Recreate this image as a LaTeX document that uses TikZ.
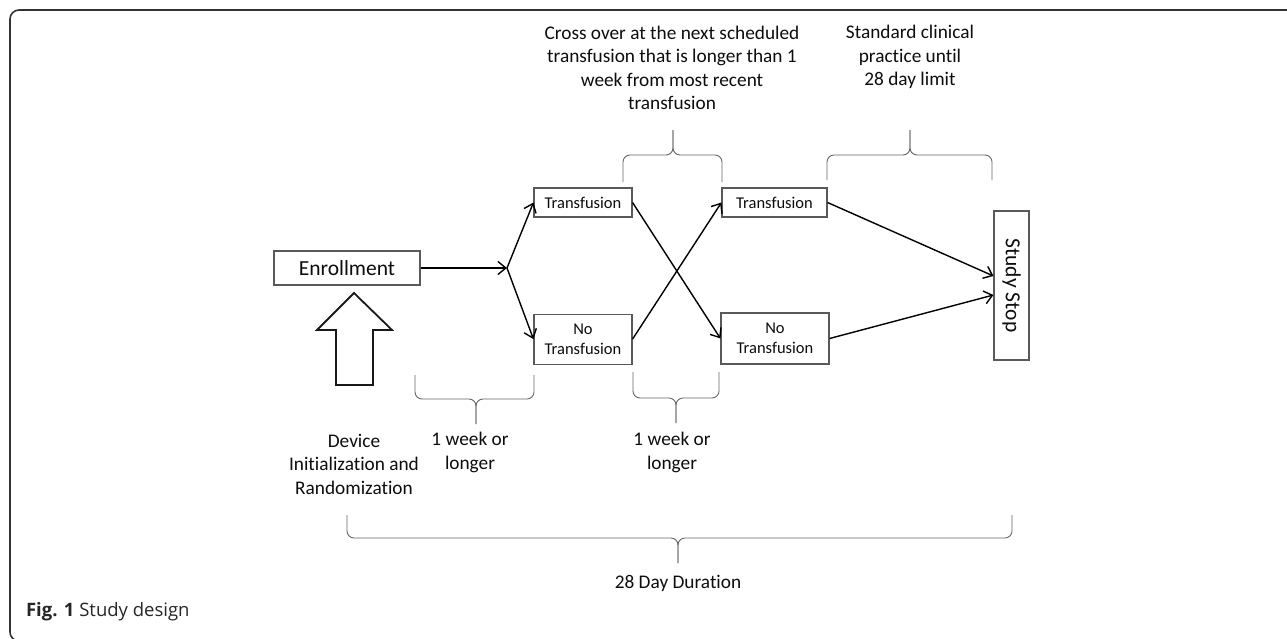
\documentclass[tikz,border=0pt]{standalone}
\usepackage{fontspec}
\setmainfont{Carlito}[Ligatures=NoCommon]
\newfontfamily\capfont{Open Sans}
\usetikzlibrary{arrows.meta,positioning}
\tikzset{box node/.style={draw=black!65,line width=1.1pt,fill=white,inner sep=0pt,
  font=\fontsize{16.5}{20.5}\selectfont,align=center,text=black!95},
}

\begin{document}
\begin{tikzpicture}[x=1pt,y=-1pt,->,>={Straight Barb[length=8pt,width=13pt]},line width=1.4pt,
 note/.style={font=\fontsize{19.3}{23.5}\selectfont,align=center,text=black!95},
 brace line/.style={-,draw=black!60,line width=0.9pt,rounded corners=7pt}]

\useasboundingbox (0,0) rectangle (1287,638);
% frame
\draw[-,black!80,line width=1.6pt,rounded corners=9pt] (1292,10) -- (10,10) -- (10,641) -- (30,641);

\node[box node,minimum width=146pt,minimum height=34pt,font=\fontsize{21.5}{25}\selectfont] (enroll) at (347,268) {Enrollment};
\node[box node,minimum width=98pt,minimum height=29pt] (trans1) at (583,202.5) {Transfusion};
\node[box node,minimum width=98pt,minimum height=50pt] (notrans1) [below=96pt of trans1] {No\\Transfusion};
\node[box node,minimum width=105pt,minimum height=29pt] (trans2) at (774.5,202.5) {Transfusion};
\node[box node,minimum width=108pt,minimum height=51pt] (notrans2) at (775,338.5) {No\\Transfusion};
\node[box node,minimum width=35pt,minimum height=149pt,font=\fontsize{21.5}{25}\selectfont] (stop) at (1011.5,285.5) {\rotatebox{-90}{Study Stop}};
\coordinate (split) at (507,268);

\draw (enroll.east) -- (split);
\draw (split) -- (trans1.west);
\draw (split) -- (notrans1.west);
\draw (trans1.east) -- (notrans2.west);
\draw (notrans1.east) -- (trans2.west);
\draw (trans2.east) -- ([yshift=9.5pt]stop.west);
\draw (notrans2.east) -- ([yshift=-9.5pt]stop.west);

% big arrow under enrollment
\draw[-,line width=1.8pt,black!90] (354,293) -- (392,330) -- (373,330) -- (373,385) -- (336,385) -- (336,330) -- (317,330) -- cycle;

\node[note] (cross) at (672,68) {Cross over at the next scheduled\\transfusion that is longer than 1\\week from most recent\\transfusion};
\node[note] (std) at (910,57) {Standard clinical\\practice until\\28 day limit};
\node[note] (device) at (354,464) {Device\\Initialization and\\Randomization};
\node[note] (week1) at (470,452.5) {1 week or\\longer};
\node[note] (week2) at (672,452.5) {1 week or\\longer};
\node[note] (dur) at (678,583) {28 Day Duration};
\node[anchor=west,font=\capfont\fontsize{18.5}{22}\selectfont,text=black!85] (cap) at (22,612) {\textbf{Fig. 1} Study design};

% braces
\draw[brace line] (623,182) -- (623,155) -- (673,155) -- (673,130);
\draw[brace line] (722,182) -- (722,155) -- (673,155) -- (673,130);
\draw[brace line] (827,180) -- (827,155) -- (910,155) -- (910,130);
\draw[brace line] (992,180) -- (992,155) -- (910,155) -- (910,130);
\draw[brace line] (415,375) -- (415,399) -- (476,399) -- (476,424);
\draw[brace line] (534,375) -- (534,399) -- (476,399) -- (476,424);
\draw[brace line] (633,372) -- (633,398) -- (676,398) -- (676,423);
\draw[brace line] (719,372) -- (719,398) -- (676,398) -- (676,423);
\draw[brace line] (347,515) -- (347,538) -- (678,538) -- (678,563);
\draw[brace line] (1012,515) -- (1012,538) -- (678,538) -- (678,563);
\end{tikzpicture}
\end{document}
